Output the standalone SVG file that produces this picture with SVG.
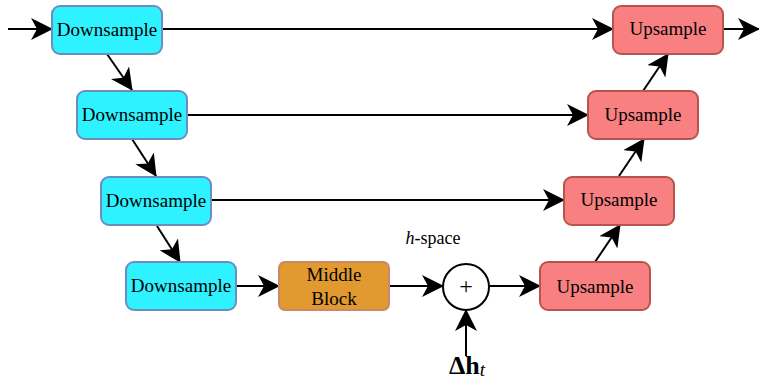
<svg xmlns="http://www.w3.org/2000/svg" width="759" height="383" viewBox="0 0 759 383">
<style>
.down{fill:#2EF2FF;stroke:#6C8EBF;stroke-width:2}
.up{fill:#F88080;stroke:#B85450;stroke-width:2}
.mid{fill:#E09A30;stroke:#CC8866;stroke-width:2}
text{font-family:"Liberation Serif","Times New Roman",Times,serif}
.lbl{font-size:19px;fill:#000;text-anchor:middle;dominant-baseline:central}
.edge{stroke:#000;stroke-width:2;fill:none;marker-end:url(#ah)}
</style>
<defs>
<marker id="ah" markerUnits="userSpaceOnUse" viewBox="0 0 22 22" markerWidth="22" markerHeight="22" refX="21" refY="11" orient="auto">
<path d="M0,0 L22,11 L0,22 L6,11 Z" fill="#000"/>
</marker>
</defs>
<g id="connectors">
<line class="edge" x1="8" y1="29" x2="52" y2="29"/>
<line class="edge" x1="162" y1="29" x2="613" y2="29"/>
<line class="edge" x1="723" y1="29" x2="759" y2="29"/>
<line class="edge" x1="107" y1="54" x2="132" y2="90"/>
<line class="edge" x1="132" y1="139" x2="156" y2="176"/>
<line class="edge" x1="157" y1="226" x2="180" y2="262"/>
<line class="edge" x1="187" y1="115" x2="588" y2="115"/>
<line class="edge" x1="211" y1="200" x2="564" y2="200"/>
<line class="edge" x1="236" y1="286" x2="279" y2="286"/>
<line class="edge" x1="389" y1="286" x2="443" y2="286"/>
<line class="edge" x1="489" y1="286" x2="540" y2="286"/>
<line class="edge" x1="466" y1="356" x2="466" y2="310"/>
<line class="edge" x1="595" y1="262" x2="620" y2="225"/>
<line class="edge" x1="619" y1="176" x2="644" y2="139"/>
<line class="edge" x1="643" y1="91" x2="668" y2="54"/>
</g>
<g id="down1"><rect class="down" x="52" y="6" width="110" height="48" rx="8"/><text class="lbl" x="107" y="29">Downsample</text></g>
<g id="down2"><rect class="down" x="77" y="91" width="110" height="48" rx="8"/><text class="lbl" x="132" y="114">Downsample</text></g>
<g id="down3"><rect class="down" x="101" y="177" width="110" height="48" rx="8"/><text class="lbl" x="156" y="200">Downsample</text></g>
<g id="down4"><rect class="down" x="126" y="262" width="110" height="48" rx="8"/><text class="lbl" x="181" y="285">Downsample</text></g>
<g id="middle"><rect class="mid" x="279" y="262" width="110" height="48" rx="6"/><text class="lbl" x="334" y="274">Middle</text><text class="lbl" x="334" y="298">Block</text></g>
<g id="sum"><circle cx="466" cy="287" r="23" fill="#fff" stroke="#000" stroke-width="2"/><text class="lbl" x="466" y="286" style="font-size:24px">+</text></g>
<g id="up4"><rect class="up" x="540" y="262" width="110" height="48" rx="8"/><text class="lbl" x="595" y="286">Upsample</text></g>
<g id="up3"><rect class="up" x="564" y="177" width="110" height="48" rx="8"/><text class="lbl" x="619" y="199">Upsample</text></g>
<g id="up2"><rect class="up" x="588" y="91" width="110" height="48" rx="8"/><text class="lbl" x="643" y="114">Upsample</text></g>
<g id="up1"><rect class="up" x="613" y="6" width="110" height="48" rx="8"/><text class="lbl" x="668" y="28">Upsample</text></g>
<g id="hspace"><text x="433" y="244" font-size="18" text-anchor="middle"><tspan font-style="italic">h</tspan>-space</text></g>
<g id="delta"><text x="467" y="374" font-size="26" font-weight="bold" text-anchor="middle">Δh<tspan font-style="italic" font-weight="normal" font-size="19" dy="2">t</tspan></text></g>
</svg>
